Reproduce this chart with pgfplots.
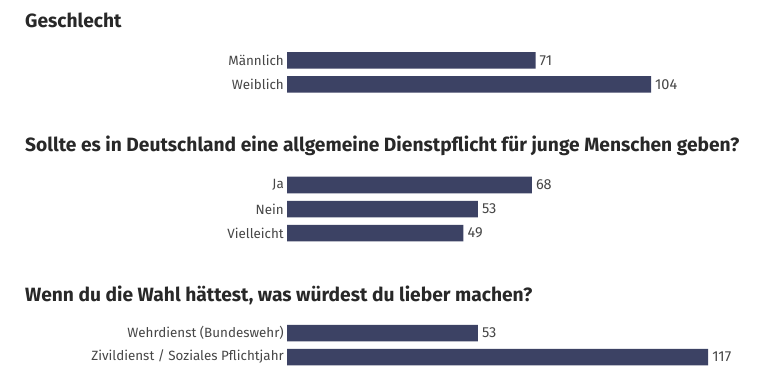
\documentclass[border=0pt]{standalone}
\usepackage{pgfplots}
\pgfplotsset{compat=1.18}
\usepackage{fontspec}
\setmainfont{Fira Sans}
\definecolor{barc}{RGB}{60,66,100}
\definecolor{titc}{RGB}{40,40,40}
\definecolor{labc}{RGB}{70,70,70}
\pgfplotsset{
  sect/.style={
    xbar, scale only axis, clip=false,
    y=24pt, ymin=-0.5, y dir=reverse,
    xmin=0, xmax=120,
    axis line style={draw=none},
    major tick length=0pt,
    xtick=\empty,
    ytick=data,
    bar width=16.5pt,
    anchor=north west,
    yticklabel style={font=\fontsize{13.4}{15}\selectfont, text=labc, inner sep=3pt},
    nodes near coords,
    every node near coord/.append style={font=\fontsize{14.5}{16}\selectfont, text=labc, inner sep=4pt},
    /pgf/number format/assume math mode=true,
  }
}
\begin{document}
\begin{tikzpicture}
\useasboundingbox (0,0) rectangle (768pt,-390pt);
\fill[white] (0,0) rectangle (768pt,-390pt);
\node[anchor=base west, inner sep=0pt, font=\fontsize{19.2}{22}\bfseries\selectfont, text=titc] at (25pt,-28pt) {Geschlecht};
\node[anchor=base west, inner sep=0pt, font=\fontsize{19.2}{22}\bfseries\selectfont, text=titc] at (25pt,-152pt) {Sollte es in Deutschland eine allgemeine Dienstpflicht für junge Menschen geben?};
\node[anchor=base west, inner sep=0pt, font=\fontsize{19.2}{22}\bfseries\selectfont, text=titc] at (25pt,-301pt) {Wenn du die Wahl hättest, was würdest du lieber machen?};

\begin{axis}[sect, x=3.5pt, ymax=1.5, at={(287pt,-48.5pt)},
  yticklabels={Männlich,Weiblich}]
\addplot[fill=barc, draw=none] coordinates {(71,0) (104,1)};
\end{axis}

\begin{axis}[sect, x=3.6pt, ymax=2.5, at={(287pt,-173pt)},
  yticklabels={Ja,Nein,Vielleicht}]
\addplot[fill=barc, draw=none] coordinates {(68,0) (53,1) (49,2)};
\end{axis}

\begin{axis}[sect, x=3.6pt, ymax=1.5, at={(287pt,-321pt)},
  yticklabels={Wehrdienst (Bundeswehr),Zivildienst / Soziales Pflichtjahr}]
\addplot[fill=barc, draw=none] coordinates {(53,0) (117,1)};
\end{axis}
\end{tikzpicture}
\end{document}
